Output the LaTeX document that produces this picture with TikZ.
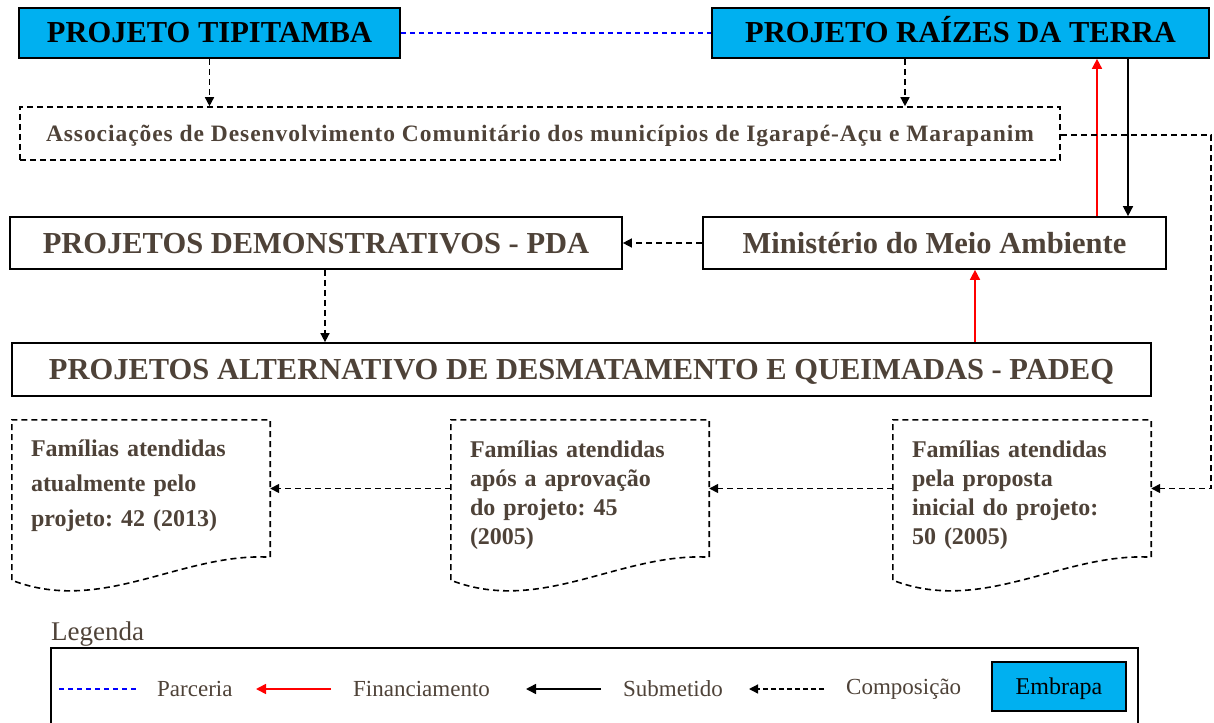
\documentclass[tikz,border=0pt]{standalone}
\usepackage{fontspec}
\setmainfont{Liberation Serif}
\usetikzlibrary{arrows.meta}
\definecolor{cyanbox}{RGB}{0,176,240}
\definecolor{txt}{RGB}{78,66,56}
\frenchspacing
\begin{document}
\frenchspacing
\begin{tikzpicture}[x=1pt,y=-1pt,
  titlebox/.style={draw=black, line width=1.7pt, fill=cyanbox, text=black, inner sep=0pt,
    text height=20pt, text depth=0pt,
    font=\fontsize{30.5}{36}\selectfont\bfseries},
  sbox/.style={draw=black, line width=1.7pt, text=txt, inner sep=0pt,
    text height=20pt, text depth=0pt,
    font=\fontsize{30.5}{36}\selectfont\bfseries},
  dline/.style={line width=1.6pt, dash pattern=on 6pt off 4pt},
  docnode/.style={minimum width=258pt, minimum height=137pt, text width=220pt,
    inner xsep=19pt, inner ysep=0pt, align=left, text=txt},
  comp/.style={line width=1.5pt, dash pattern=on 6pt off 4pt, -{Triangle[length=9pt,width=9pt]}},
  fin/.style={red, line width=1.6pt, -{Triangle[length=10pt,width=10pt]}},
  sub/.style={black, line width=1.5pt, -{Triangle[length=10pt,width=10pt]}},
  parc/.style={blue, line width=1.2pt, dash pattern=on 5pt off 4pt},
  legtxt/.style={text=txt, inner sep=0pt, font=\fontsize{23}{27}\selectfont}
]
\useasboundingbox (0,0) rectangle (1214,722);

% top boxes
\node[titlebox, minimum width=381pt, minimum height=50pt] (tip) at (209.5,33) {PROJETO TIPITAMBA};
\node[titlebox, minimum width=497pt, minimum height=50pt] (raiz) at (960.5,33) {PROJETO RAÍZES DA TERRA};

\node[dline, draw=black, minimum width=1040pt, minimum height=53pt, inner sep=0pt, text=txt,
  text height=15.5pt, text depth=0pt,
  font=\fontsize{23.5}{28}\selectfont\bfseries\addfontfeature{LetterSpace=4}] (assoc) at (540,133.5)
  {Associações de Desenvolvimento Comunitário dos municípios de Igarapé-Açu e Marapanim};

\node[sbox, minimum width=612pt, minimum height=52pt] (pda) at (316,243) {PROJETOS DEMONSTRATIVOS - PDA};
\node[sbox, minimum width=463pt, minimum height=52pt] (mma) at (934.5,243) {Ministério do Meio Ambiente};
\node[sbox, minimum width=1139pt, minimum height=53pt] (padeq) at (581.5,369.5)
  {PROJETOS ALTERNATIVO DE DESMATAMENTO E QUEIMADAS - PADEQ};

% document shapes
\node[docnode, font=\fontsize{24}{35}\selectfont\bfseries] (f1) at (141,488.5)
  {Famílias atendidas\\atualmente pelo\\projeto: 42 (2013)\rule[-11pt]{0pt}{0pt}};
\node[docnode, font=\fontsize{24}{29}\selectfont\bfseries] (f2) at (580,488.5)
  {\rule{0pt}{31pt}Famílias atendidas\\após a aprovação\\do projeto: 45\\(2005)};
\node[docnode, font=\fontsize{24}{29}\selectfont\bfseries] (f3) at (1022,488.5)
  {\rule{0pt}{31pt}Famílias atendidas\\pela proposta\\inicial do projeto:\\50 (2005)};
\foreach \d in {f1,f2,f3}{
  \draw[dline] ([shift={(0,23)}]\d.south west) -- (\d.north west) -- (\d.north east) -- (\d.south east)
    .. controls ([shift={(170,-5)}]\d.south west) and ([shift={(90,58)}]\d.south west)
    .. ([shift={(0,23)}]\d.south west);
}

% connectors
\coordinate (xa) at (905,0);
\coordinate (xr) at (1097,0);
\coordinate (xb) at (1128,0);
\coordinate (xp) at (325,0);
\coordinate (xq) at (975,0);
\coordinate (c1) at (1211,135);
\coordinate (c2) at (1211,488.5);

\draw[parc] (tip.east) -- (raiz.west);
\draw[comp] (tip.south) -- (tip.south |- assoc.north);
\draw[comp] (raiz.south -| xa) -- (assoc.north -| xa);
\draw[fin] (mma.north -| xr) -- (raiz.south -| xr);
\draw[sub] (raiz.south -| xb) -- (mma.north -| xb);
\draw[comp] (mma.west) -- (pda.east);
\draw[comp] (pda.south -| xp) -- (padeq.north -| xp);
\draw[fin] (padeq.north -| xq) -- (mma.south -| xq);
\draw[comp] (assoc.east |- c1) -- (c1) -- (c2) -- (f3.east);
\draw[comp] (f3.west) -- (f2.east);
\draw[comp] (f2.west) -- (f1.east);

% legend
\node[anchor=base west, inner sep=0pt, text=txt, font=\fontsize{27}{32}\selectfont] (legtitle) at (51,640) {Legenda};
\node[draw=black, line width=1.7pt, anchor=north west, minimum width=1087pt, minimum height=100pt] (leg) at (50,647) {};
\coordinate (p1) at (59,689);  \coordinate (p2) at (136,689);
\coordinate (r1) at (331,689); \coordinate (r2) at (256,689);
\coordinate (b1) at (601,689); \coordinate (b2) at (526,689);
\coordinate (d1) at (824,689); \coordinate (d2) at (749,689);
\draw[parc] (p1) -- (p2);
\node[legtxt, anchor=west] (lparc) at (157,689) {Parceria};
\draw[fin] (r1) -- (r2);
\node[legtxt, anchor=west] (lfin) at (353,689) {Financiamento};
\draw[sub] (b1) -- (b2);
\node[legtxt, anchor=west] (lsub) at (623,689) {Submetido};
\draw[comp, line width=1.3pt, dash pattern=on 5pt off 3pt] (d1) -- (d2);
\node[legtxt, anchor=west] (lcomp) at (846,689) {Composição};
\node[draw=black, line width=1.7pt, fill=cyanbox, minimum width=134.5pt, minimum height=49pt,
  inner sep=0pt, text height=16pt, text depth=0pt, font=\fontsize{24}{28}\selectfont] (emb) at (1059,686.5) {Embrapa};
\end{tikzpicture}
\end{document}
